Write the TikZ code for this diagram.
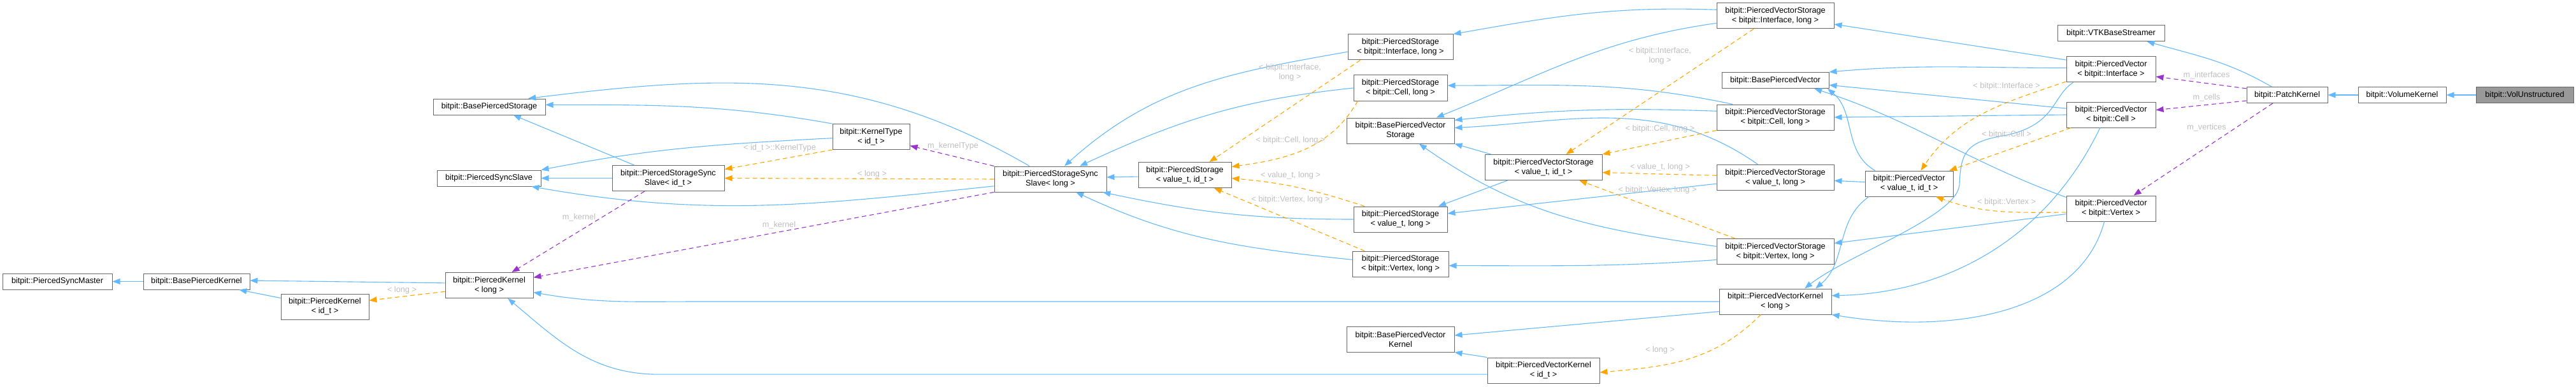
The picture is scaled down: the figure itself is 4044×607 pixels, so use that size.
\documentclass[tikz,border=0pt]{standalone}
\usepackage{fontspec}
\setmainfont{Liberation Sans}
\usetikzlibrary{arrows.meta}
\definecolor{nodegrey}{HTML}{666666}
\definecolor{curfill}{HTML}{999999}
\definecolor{lblgrey}{HTML}{BEBEBE}
\definecolor{inhblue}{HTML}{63B8FF}
\definecolor{tplorange}{HTML}{FFA500}
\definecolor{usepurple}{HTML}{9A32CD}
\tikzset{
  cls/.style={draw=nodegrey, fill=white, line width=1pt, inner sep=0pt, align=center, minimum height=40pt},
  cls1/.style={cls, minimum height=25pt},
  lbl/.style={text=lblgrey, inner sep=0pt, align=center},
  inh/.style={draw=inhblue, line width=1.1pt, -{Triangle[length=12pt,width=9pt]}},
  tpl/.style={draw=tplorange, line width=1.1pt, dash pattern=on 7pt off 5pt, -{Triangle[length=12pt,width=9pt]}},
  usg/.style={draw=usepurple, line width=1.1pt, dash pattern=on 7pt off 5pt, -{Triangle[length=12pt,width=9pt]}}
}

\begin{document}
\begin{tikzpicture}[x=1pt, y=1pt, font=\fontsize{12.7}{15}\selectfont]
			%%%%% START %%%%%
			\useasboundingbox (0,0) rectangle (4044,-607);

			% classes
			\node[cls1, minimum width=172pt] (syncmaster) at (90,-441.5) {bitpit::PiercedSyncMaster};
			\node[cls1, minimum width=167pt] (basekernel) at (308.5,-441.5) {bitpit::BasePiercedKernel};
			\node[cls, minimum width=138pt] (kernelid) at (510,-481) {bitpit::PiercedKernel\\< id\_t >};
			\node[cls1, minimum width=176pt] (basestorage) at (768,-167.5) {bitpit::BasePiercedStorage};
			\node[cls1, minimum width=163pt] (syncslave) at (767.5,-279.5) {bitpit::PiercedSyncSlave};
			\node[cls, minimum width=176pt] (psssid) at (1049,-279.5) {bitpit::PiercedStorageSync\\Slave< id\_t >};
			\node[cls, minimum width=138pt] (kernellong) at (768,-447.5) {bitpit::PiercedKernel\\< long >};
			\node[cls, minimum width=121pt] (kerneltype) at (1367.5,-214.5) {bitpit::KernelType\\< id\_t >};
			\node[cls, minimum width=176pt] (pssslong) at (1649,-281) {bitpit::PiercedStorageSync\\Slave< long >};
			\node[cls, minimum width=146pt] (psvid) at (1860,-274.5) {bitpit::PiercedStorage\\< value\_t, id\_t >};

			\node[cls, minimum width=165pt] (psiface) at (2198.5,-74) {bitpit::PiercedStorage\\< bitpit::Interface, long >};
			\node[cls, minimum width=147pt] (pscell) at (2198.5,-138) {bitpit::PiercedStorage\\< bitpit::Cell, long >};
			\node[cls, minimum width=169pt] (bpvs) at (2198.5,-205) {bitpit::BasePiercedVector\\Storage};
			\node[cls, minimum width=147pt] (psvlong) at (2198.5,-344) {bitpit::PiercedStorage\\< value\_t, long >};
			\node[cls, minimum width=151pt] (psvertex) at (2198.5,-414) {bitpit::PiercedStorage\\< bitpit::Vertex, long >};
			\node[cls, minimum width=169pt] (bpvk) at (2198.5,-532) {bitpit::BasePiercedVector\\Kernel};
			\node[cls, minimum width=184pt] (pvsvid) at (2423,-262.5) {bitpit::PiercedVectorStorage\\< value\_t, id\_t >};
			\node[cls, minimum width=176pt] (pvkid) at (2423,-581) {bitpit::PiercedVectorKernel\\< id\_t >};

			\node[cls, minimum width=184pt] (pvsiface) at (2787,-25) {bitpit::PiercedVectorStorage\\< bitpit::Interface, long >};
			\node[cls1, minimum width=168pt] (bpv) at (2787,-126) {bitpit::BasePiercedVector};
			\node[cls, minimum width=184pt] (pvscell) at (2787,-184) {bitpit::PiercedVectorStorage\\< bitpit::Cell, long >};
			\node[cls, minimum width=184pt] (pvsvlong) at (2787,-278.5) {bitpit::PiercedVectorStorage\\< value\_t, long >};
			\node[cls, minimum width=184pt] (pvsvertex) at (2787,-394.5) {bitpit::PiercedVectorStorage\\< bitpit::Vertex, long >};
			\node[cls, minimum width=176pt] (pvklong) at (2787,-473) {bitpit::PiercedVectorKernel\\< long >};
			\node[cls, minimum width=138pt] (pvvid) at (2997,-288) {bitpit::PiercedVector\\< value\_t, id\_t >};

			\node[cls1, minimum width=168pt] (vtk) at (3314,-52) {bitpit::VTKBaseStreamer};
			\node[cls, minimum width=140pt] (pviface) at (3314,-109) {bitpit::PiercedVector\\< bitpit::Interface >};
			\node[cls, minimum width=140pt] (pvcell) at (3314,-180) {bitpit::PiercedVector\\< bitpit::Cell >};
			\node[cls, minimum width=140pt] (pvvertex) at (3314,-327) {bitpit::PiercedVector\\< bitpit::Vertex >};
			\node[cls1, minimum width=127pt] (patch) at (3590.5,-149) {bitpit::PatchKernel};
			\node[cls1, minimum width=138pt] (volume) at (3771,-149) {bitpit::VolumeKernel};
			\node[cls1, minimum width=153pt, fill=curfill] (volun) at (3963.5,-149) {bitpit::VolUnstructured};

			% kernels, left part
			\draw[inh] (basekernel.west) -- (syncmaster.east);
			\draw[inh] (kernelid.169) -- (basekernel.-11);
			\draw[inh] (kernellong.177) -- (basekernel.1);
			\draw[tpl] (kernellong.188) -- (kernelid.8);
			\draw[inh] (psssid.159) -- (basestorage.-19);
			\draw[inh] (psssid.west) -- (syncslave.east);
			\draw[inh] (kerneltype.north west) to[out=170,in=0] (basestorage.2);
			\draw[inh] (kerneltype.182) to[out=183,in=11] (syncslave.9);
			\draw[inh] (pssslong.187) to[out=186,in=-10] (syncslave.-11);
			\draw[inh] (pssslong.148) to[out=150,in=7] (basestorage.12);
			\draw[tpl] (pssslong.west) -- (psssid.east);
			\draw[tpl] (kerneltype.south west) -- (psssid.9);
			\draw[usg] (pssslong.north west) -- (kerneltype.-13);
			\draw[usg] (psssid.209) -- (kernellong.30);
			\draw[usg] (pssslong.193) -- (kernellong.10);

			% storages
			\draw[inh] (psvid.182) -- (pssslong.2);
			\draw[inh] (psiface.185) to[out=190,in=42] (pssslong.43);
			\draw[inh] (pscell.180) to[out=186,in=25] (pssslong.24);
			\draw[inh] (psvlong.180) to[out=180,in=-12] (pssslong.-14);
			\draw[inh] (psvertex.175) to[out=174,in=-25] (pssslong.-27);
			\draw[tpl] (psiface.198) -- (psvid.28);
			\draw[tpl] (pscell.197) to[out=240,in=8] (psvid.10);
			\draw[tpl] (psvlong.160) to[out=162,in=-5] (psvid.-4);
			\draw[tpl] (psvertex.160) -- (psvid.-24);

			% vector storages
			\draw[inh] (pvsiface.174) to[out=178,in=10] (psiface.north east);
			\draw[inh] (pvsiface.187) to[out=188,in=22] (bpvs.20);
			\draw[inh] (pvscell.163) to[out=168,in=0] (pscell.3);
			\draw[inh] (pvscell.174) to[out=178,in=6] (bpvs.11);
			\draw[inh] (pvsvlong.143) to[out=145,in=3] (bpvs.3);
			\draw[inh] (pvsvlong.186) -- (psvlong.7);
			\draw[inh] (pvsvertex.175) to[out=172,in=-35] (bpvs.-35);
			\draw[inh] (pvsvertex.188) to[out=184,in=0] (psvertex.-2);
			\draw[inh] (pvsvid.166) -- (bpvs.south east);
			\draw[inh] (pvsvid.200) -- (psvlong.19);
			\draw[tpl] (pvsiface.211) -- (pvsvid.30);
			\draw[tpl] (pvscell.south west) -- (pvsvid.north east);
			\draw[tpl] (pvsvlong.178) -- (pvsvid.-5);
			\draw[tpl] (pvsvertex.162) -- (pvsvid.-20);

			% vector kernels
			\draw[inh] (pvklong.west) -- ++(-1600,0) to[out=180,in=-10] (kernellong.-9);
			\draw[inh] (pvkid.184) -- ++(-1300,0) to[out=180,in=-40] (kernellong.-35);
			\draw[inh] (pvklong.190) -- (bpvk.4);
			\draw[inh] (pvkid.north west) -- (bpvk.south east);
			\draw[tpl] (pvklong.222) to[out=225,in=5] (pvkid.-2);

			% pierced vectors
			\draw[inh] (pvvid.178) -- (pvsvlong.-3);
			\draw[inh] (pvvid.159) to[out=150,in=-40] (bpv.-9);
			\draw[inh] (pvvid.198) to[out=215,in=40] (pvklong.18);
			\draw[inh] (pviface.178) to[out=180,in=5] (bpv.north east);
			\draw[inh] (pviface.168) -- (pvsiface.-8);
			\draw[inh] (pviface.199) .. controls (3222,-150) and (3228,-195) .. (3150,-212)
			  .. controls (3085,-222) and (3078,-240) .. (3076,-290)
			  .. controls (3072,-340) and (2900,-400) .. (pvklong.24);
			\draw[inh] (pvcell.172) -- (bpv.-5);
			\draw[inh] (pvcell.west) -- (pvscell.east);
			\draw[inh] (pvcell.230) .. controls (3210,-380) and (3050,-460) .. (pvklong.6);
			\draw[inh] (pvvertex.166) to[out=160,in=-18] (bpv.-12);
			\draw[inh] (pvvertex.187) -- (pvsvertex.8);
			\draw[inh] (pvvertex.243) .. controls (3265,-490) and (3070,-525) .. (pvklong.south east);
			\draw[tpl] (pviface.195) to[out=199,in=56] (pvvid.48);
			\draw[tpl] (pvcell.198) -- (pvvid.18);
			\draw[tpl] (pvvertex.185) to[out=180,in=-20] (pvvid.-26);

			% patch
			\draw[inh] (patch.152) to[out=150,in=-16] (vtk.-13);
			\draw[usg] (patch.171) -- (pviface.-9);
			\draw[usg] (patch.188) -- (pvcell.6);
			\draw[usg] (patch.210) -- (pvvertex.30);
			\draw[inh] (volume.west) -- (patch.east);
			\draw[inh] (volun.west) -- (volume.east);

			% edge labels
			\node[lbl] (lblong1) at (631,-455) {< long >};
			\node[lbl] (lbkern1) at (909,-341) {m\_kernel};
			\node[lbl] (lbkern2) at (1223,-353) {m\_kernel};
			\node[lbl] (lbkt) at (1224,-232) {< id\_t >::KernelType};
			\node[lbl] (lbmkt) at (1496,-229) {m\_kernelType};
			\node[lbl] (lblong2) at (1369,-273) {< long >};
			\node[lbl] (lbpsif) at (2025,-113.5) {< bitpit::Interface,\\long >};
			\node[lbl] (lbpscell) at (2026,-220) {< bitpit::Cell, long >};
			\node[lbl] (lbpsv) at (2026,-275) {< value\_t, long >};
			\node[lbl] (lbpsvert) at (2026,-313) {< bitpit::Vertex, long >};
			\node[lbl] (lbpvsif) at (2606,-87.5) {< bitpit::Interface,\\long >};
			\node[lbl] (lbpvscell) at (2606,-202) {< bitpit::Cell, long >};
			\node[lbl] (lbpvsv) at (2606,-262) {< value\_t, long >};
			\node[lbl] (lbpvsvert) at (2602,-298) {< bitpit::Vertex, long >};
			\node[lbl] (lblong3) at (2606,-549) {< long >};
			\node[lbl] (lbpvif) at (3150,-135) {< bitpit::Interface >};
			\node[lbl] (lbpvcell) at (3150,-211) {< bitpit::Cell >};
			\node[lbl] (lbpvvert) at (3150,-317) {< bitpit::Vertex >};
			\node[lbl] (lbmif) at (3464,-118.5) {m\_interfaces};
			\node[lbl] (lbmcell) at (3464,-153) {m\_cells};
			\node[lbl] (lbmvert) at (3464,-200) {m\_vertices};

			%%%%% END %%%%%
\end{tikzpicture}
\end{document}
